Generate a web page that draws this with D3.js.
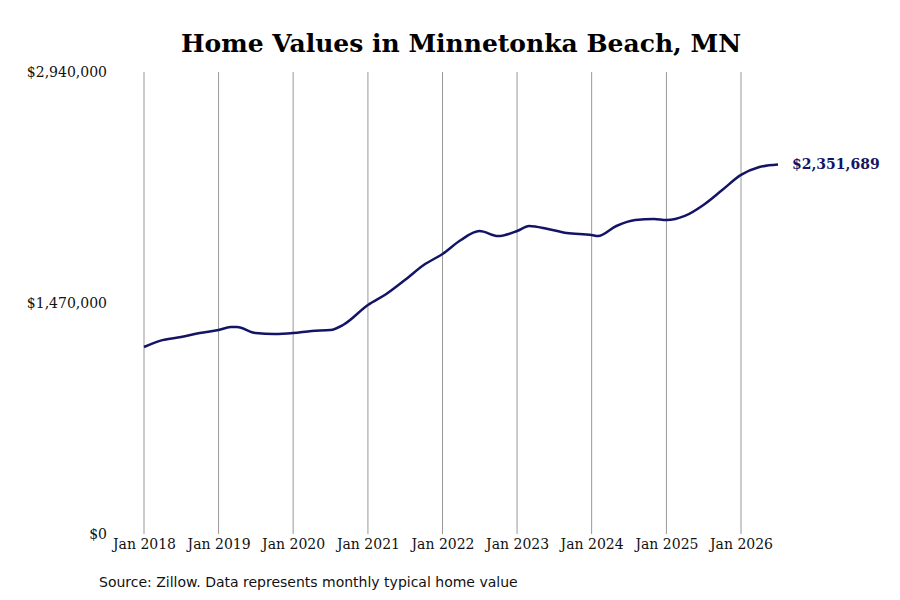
<!DOCTYPE html>
<html><head><meta charset="utf-8">
<script src="https://cdn.jsdelivr.net/npm/d3@7"></script>
<style>body{margin:0;background:#fff}</style></head>
<body><svg id="c" width="900" height="600"></svg>
<script>
const dates=["2018-01","2018-04","2018-07","2018-10","2019-01","2019-03","2019-04","2019-07","2019-10","2020-01","2020-04","2020-07","2020-09","2021-01","2021-04","2021-07","2021-10","2022-01","2022-04","2022-07","2022-10","2023-01","2023-03","2023-06","2023-09","2024-01","2024-02","2024-05","2024-08","2024-11","2025-01","2025-04","2025-07","2025-10","2026-01","2026-04","2026-07"];
const values=[1190000,1234000,1253000,1279000,1298000,1317000,1317000,1279000,1273000,1279000,1292000,1298000,1330000,1457000,1527000,1616000,1712000,1782000,1871000,1928000,1896000,1928000,1960000,1941000,1915000,1903000,1896000,1960000,1998000,2005000,1998000,2024000,2094000,2189000,2285000,2335000,2351689];
const yTicks=[0,1470000,2940000];
const xTickYears=[2018,2019,2020,2021,2022,2023,2024,2025,2026];
const parse=d3.timeParse("%Y-%m");
const data=dates.map((d,i)=>({d:parse(d),v:values[i]}));
const svg=d3.select("#c");
const x=d3.scaleTime().domain([new Date(2018,0,1),new Date(2026,0,1)]).range([144,741]);
const y=d3.scaleLinear().domain([0,2940000]).range([534,72]);
const font="'DejaVu Serif', serif";
svg.append("text").attr("x",461).attr("y",52).attr("text-anchor","middle").attr("font-family",font).attr("font-weight","bold").attr("font-size",25).text("Home Values in Minnetonka Beach, MN");
const xt=xTickYears.map(yr=>new Date(yr,0,1));
svg.append("g").selectAll("line").data(xt).join("line").attr("x1",d=>x(d)).attr("x2",d=>x(d)).attr("y1",72).attr("y2",534).attr("stroke","#999").attr("stroke-width",1);
const xa=svg.append("g").attr("transform","translate(0,534)").call(d3.axisBottom(x).tickValues(xt).tickFormat(d3.timeFormat("Jan %Y")).tickSize(0).tickPadding(5));
xa.select(".domain").remove();
xa.selectAll("text").attr("font-family",font).attr("font-size",14).attr("fill","#111");
const ya=svg.append("g").attr("transform","translate(107,0)").call(d3.axisLeft(y).tickValues(yTicks).tickFormat(d=>"$"+d3.format(",")(d)).tickSize(0).tickPadding(0));
ya.select(".domain").remove();
ya.selectAll("text").attr("font-family",font).attr("font-size",14).attr("fill","#111");
svg.append("path").datum(data).attr("fill","none").attr("stroke","#141466").attr("stroke-width",2.5)
 .attr("d",d3.line().x(d=>x(d.d)).y(d=>y(d.v)).curve(d3.curveMonotoneX));
const last=data[data.length-1];
svg.append("text").attr("x",x(last.d)+14).attr("y",y(last.v)).attr("dy","0.35em").attr("font-family",font).attr("font-weight","bold").attr("font-size",14).attr("fill","#141466").text("$"+d3.format(",")(last.v));
svg.append("text").attr("x",99).attr("y",587).attr("font-family","'DejaVu Sans', sans-serif").attr("font-size",14).attr("fill","#111").text("Source: Zillow. Data represents monthly typical home value");
</script></body></html>
